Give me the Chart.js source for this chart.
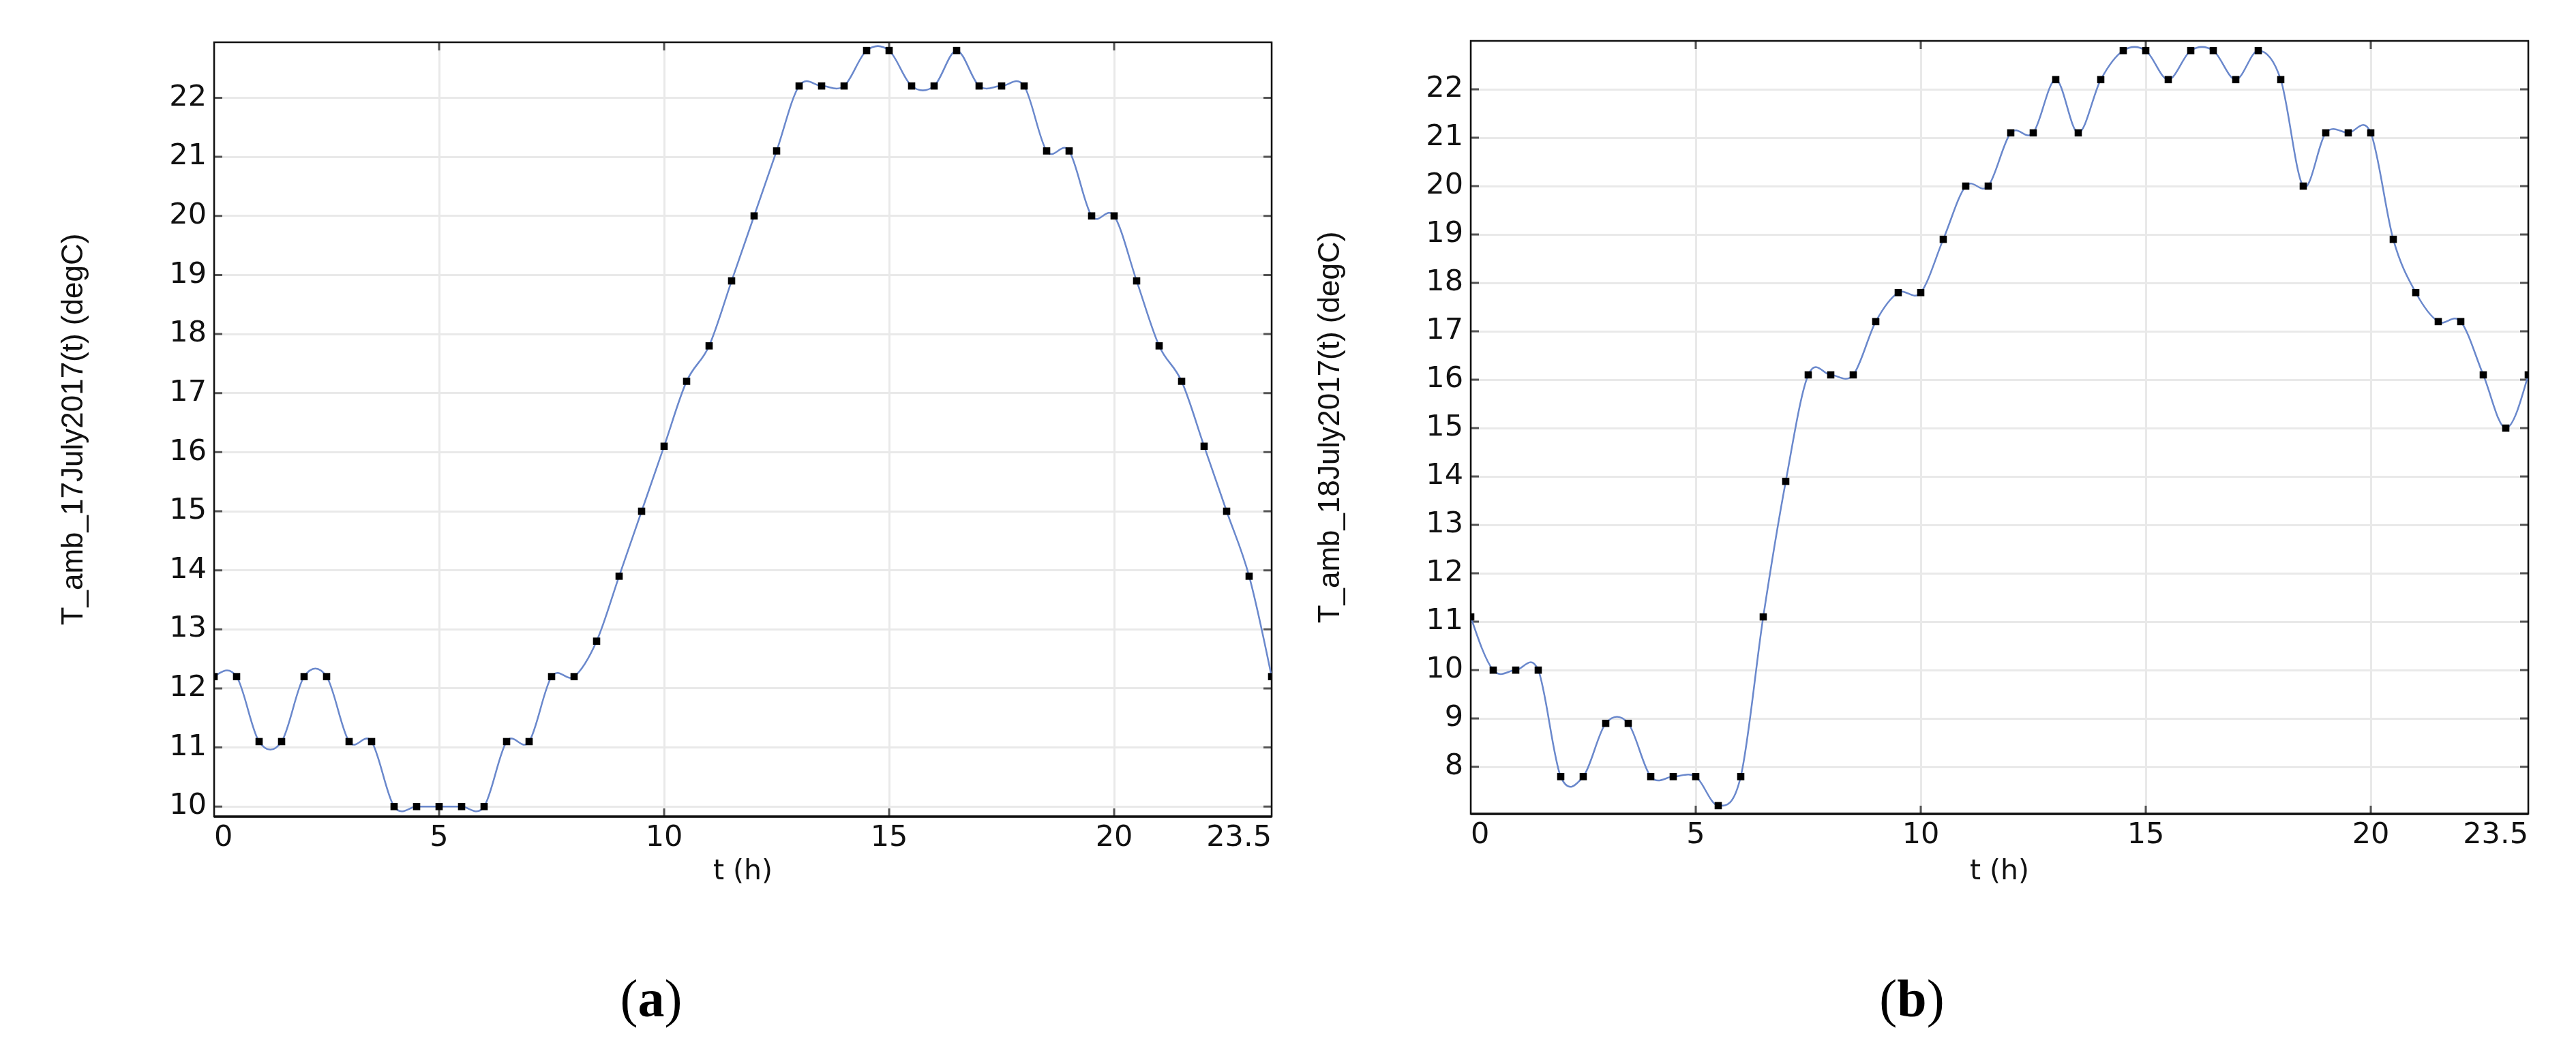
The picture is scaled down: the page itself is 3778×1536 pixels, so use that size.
<!DOCTYPE html>
<html>
<head>
<meta charset="utf-8">
<script src="https://cdn.jsdelivr.net/npm/chart.js@4.4.0/dist/chart.umd.min.js"></script>
<style>
  body { margin: 0; background: #fff; width: 3778px; height: 1536px; position: relative; overflow: hidden; }
  .box { position: absolute; top: 0; width: 1900px; height: 1400px; }
  .cap { position: absolute; top: 1465px; transform: translate(-50%, -50%); font-family: "Liberation Serif", serif; font-size: 78px; line-height: 1; color: #000; }
  .cap b { font-weight: bold; }
</style>
</head>
<body>
<div class="box" style="left:0px"><canvas id="chartA"></canvas></div>
<div class="box" style="left:1843px"><canvas id="chartB"></canvas></div>
<div class="cap" style="left:955px">(<b>a</b>)</div>
<div class="cap" style="left:2804px">(<b>b</b>)</div>
<script>
// time of day, hours
const hours = [0, 0.5, 1, 1.5, 2, 2.5, 3, 3.5, 4, 4.5, 5, 5.5, 6, 6.5, 7, 7.5, 8, 8.5, 9, 9.5,
  10, 10.5, 11, 11.5, 12, 12.5, 13, 13.5, 14, 14.5, 15, 15.5, 16, 16.5, 17, 17.5, 18, 18.5, 19, 19.5,
  20, 20.5, 21, 21.5, 22, 22.5, 23, 23.5];

// ambient temperature, degC
const temp17July = [12.2, 12.2, 11.1, 11.1, 12.2, 12.2, 11.1, 11.1, 10.0, 10.0, 10.0, 10.0, 10.0, 11.1, 11.1, 12.2, 12.2, 12.8, 13.9, 15.0,
  16.1, 17.2, 17.8, 18.9, 20.0, 21.1, 22.2, 22.2, 22.2, 22.8, 22.8, 22.2, 22.2, 22.8, 22.2, 22.2, 22.2, 21.1, 21.1, 20.0,
  20.0, 18.9, 17.8, 17.2, 16.1, 15.0, 13.9, 12.2];
const temp18July = [11.1, 10.0, 10.0, 10.0, 7.8, 7.8, 8.9, 8.9, 7.8, 7.8, 7.8, 7.2, 7.8, 11.1, 13.9, 16.1, 16.1, 16.1, 17.2, 17.8,
  17.8, 18.9, 20.0, 20.0, 21.1, 21.1, 22.2, 21.1, 22.2, 22.8, 22.8, 22.2, 22.8, 22.8, 22.2, 22.8, 22.2, 20.0, 21.1, 21.1,
  21.1, 18.9, 17.8, 17.2, 17.2, 16.1, 15.0, 16.1];

const xTicks = [0, 5, 10, 15, 20, 23.5];
const yTicksA = [10, 11, 12, 13, 14, 15, 16, 17, 18, 19, 20, 21, 22];
const yTicksB = [8, 9, 10, 11, 12, 13, 14, 15, 16, 17, 18, 19, 20, 21, 22];

const tickFont = { family: 'DejaVu Sans', size: 43 };
const gridColor = '#e9e9e9';

// the plot software interpolates along t, so set the bezier handles from
// finite-difference slopes in x instead of chart.js's distance-weighted ones
const xSpline = {
  id: 'xSpline',
  beforeDatasetDraw(chart, args) {
    const line = args.meta.dataset;
    const pts = args.meta.data;
    if (line && line.updateControlPoints) line.updateControlPoints(chart.chartArea, 'x');
    const n = pts.length;
    if (n < 3) return;
    const slope = pts.map((p, i) => {
      const a = pts[Math.max(i - 1, 0)], b = pts[Math.min(i + 1, n - 1)];
      return (b.y - a.y) / (b.x - a.x);
    });
    // natural end conditions (no curvature at the ends)
    const d0 = (pts[1].y - pts[0].y) / (pts[1].x - pts[0].x);
    const dn = (pts[n - 1].y - pts[n - 2].y) / (pts[n - 1].x - pts[n - 2].x);
    slope[0] = (3 * d0 - slope[1]) / 2;
    slope[n - 1] = (3 * dn - slope[n - 2]) / 2;
    pts.forEach((p, i) => {
      if (i > 0) {
        const dx = (p.x - pts[i - 1].x) / 3;
        p.cp1x = p.x - dx; p.cp1y = p.y - slope[i] * dx;
      }
      if (i < n - 1) {
        const dx = (pts[i + 1].x - p.x) / 3;
        p.cp2x = p.x + dx; p.cp2y = p.y + slope[i] * dx;
      }
    });
    if (line) delete line._path;
  }
};

// black frame plus small inward tick marks on all four sides
const frame = {
  id: 'frame',
  beforeDatasetsDraw(chart) {
    const { ctx, chartArea: a, scales } = chart;
    ctx.save();
    ctx.strokeStyle = '#555';
    ctx.lineWidth = 3;
    ctx.beginPath();
    scales.x.ticks.forEach(t => {
      if (t.value <= scales.x.min || t.value >= scales.x.max) return;
      const px = scales.x.getPixelForValue(t.value);
      ctx.moveTo(px, a.bottom); ctx.lineTo(px, a.bottom - 12);
      ctx.moveTo(px, a.top); ctx.lineTo(px, a.top + 12);
    });
    scales.y.ticks.forEach(t => {
      const py = scales.y.getPixelForValue(t.value);
      ctx.moveTo(a.left, py); ctx.lineTo(a.left + 12, py);
      ctx.moveTo(a.right, py); ctx.lineTo(a.right - 12, py);
    });
    ctx.stroke();
    ctx.strokeStyle = '#111';
    ctx.lineWidth = 2.5;
    ctx.strokeRect(a.left, a.top, a.right - a.left, a.bottom - a.top);
    ctx.lineWidth = 3.5;
    ctx.beginPath();
    ctx.moveTo(a.left, a.bottom); ctx.lineTo(a.right, a.bottom);
    ctx.stroke();
    ctx.restore();
  }
};

function makeChart(id, temps, yTicks, yMin, yMax, yTitle, padTop, xAxisHeight) {
  return new Chart(document.getElementById(id), {
    type: 'line',
    data: {
      datasets: [{
        data: hours.map((h, i) => ({ x: h, y: temps[i] })),
        borderColor: '#6a88cc',
        borderWidth: 2.5,
        tension: 0.4,
        pointStyle: 'rect',
        pointRadius: 7.5,
        pointBackgroundColor: '#000',
        pointBorderWidth: 0,
        fill: false
      }]
    },
    options: {
      responsive: true,
      maintainAspectRatio: false,
      animation: false,
      events: [],
      layout: { padding: { top: padTop, right: 35, left: 0, bottom: 0 } },
      plugins: { legend: { display: false }, tooltip: { enabled: false } },
      scales: {
        x: {
          type: 'linear',
          min: 0,
          max: 23.5,
          afterBuildTicks: s => { s.ticks = xTicks.map(v => ({ value: v })); },
          afterFit: s => { s.height = xAxisHeight; },
          ticks: { font: tickFont, color: '#111', padding: 6, align: 'inner', maxRotation: 0, autoSkip: false },
          grid: { color: gridColor, lineWidth: 3, drawTicks: false },
          border: { display: false },
          title: { display: true, text: 't (h)', font: { family: 'DejaVu Sans', size: 41 }, color: '#111', padding: { top: 0, bottom: 96 } }
        },
        y: {
          min: yMin,
          max: yMax,
          afterBuildTicks: s => { s.ticks = yTicks.map(v => ({ value: v })); },
          afterFit: s => { s.width = 314; },
          ticks: { font: tickFont, color: '#111', padding: 11 },
          grid: { color: gridColor, lineWidth: 3, drawTicks: false },
          border: { display: false },
          title: { display: true, text: yTitle, font: { family: 'Liberation Sans', size: 44 }, color: '#111', padding: { top: 82, bottom: 0 } }
        }
      }
    },
    plugins: [frame, xSpline]
  });
}

makeChart('chartA', temp17July, yTicksA, 9.83, 22.94, 'T_amb_17July2017(t) (degC)', 62, 202);
makeChart('chartB', temp18July, yTicksB, 7.03, 23.0, 'T_amb_18July2017(t) (degC)', 60, 206);
</script>
</body>
</html>
